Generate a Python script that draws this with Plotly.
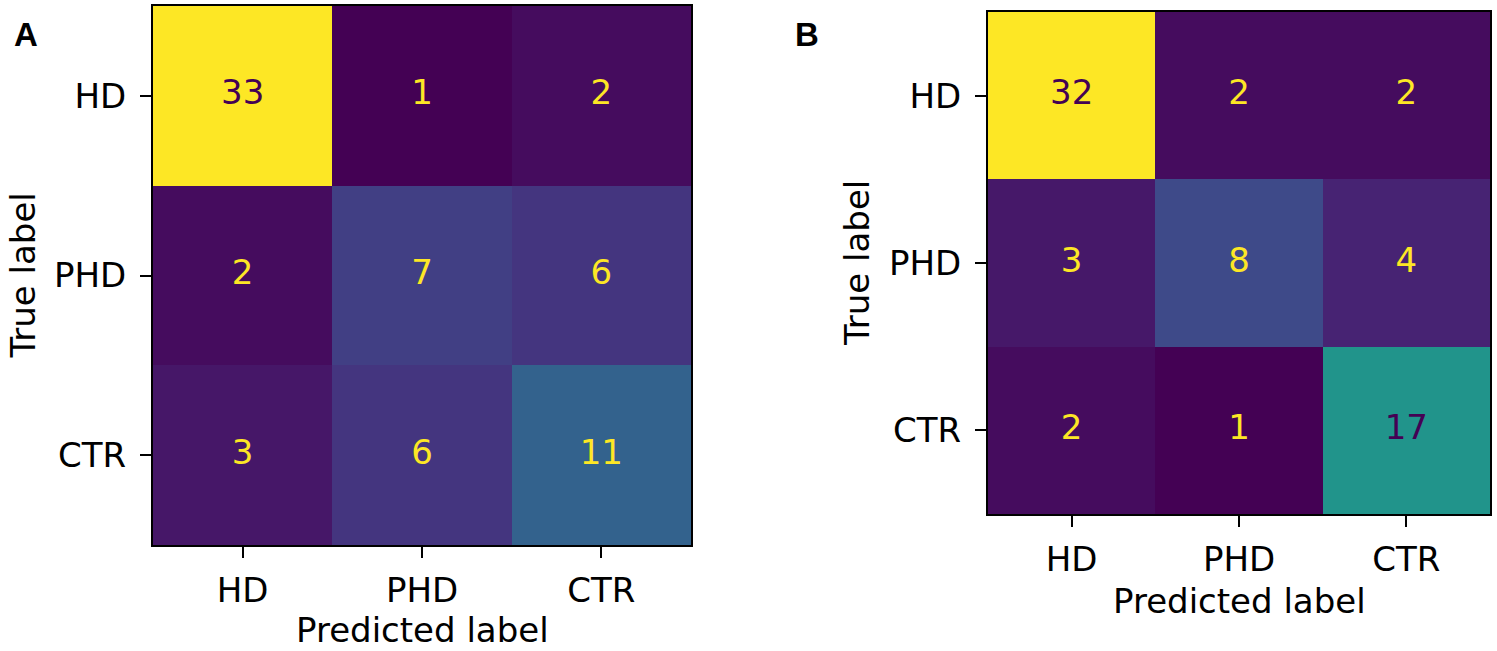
import plotly.graph_objects as go

labels = ["HD", "PHD", "CTR"]
cm_a = [[33, 1, 2], [2, 7, 6], [3, 6, 11]]
cm_b = [[32, 2, 2], [3, 8, 4], [2, 1, 17]]

W, H = 1497, 651
DARK = "#440154"
LIGHT = "#fde725"
FONT = "DejaVu Sans"
FS = 34

fig = go.Figure()

# (matrix, xaxis, yaxis, x-range px, y-range px, tag, tag pos, ytitle x, xtitle y)
panels = [
    (cm_a, "x", "y", (153, 691), (6, 545), "A", (26, 34), 22, 630),
    (cm_b, "x2", "y2", (988, 1490), (12, 514), "B", (807, 34), 857, 601),
]

for i, (cm, xa, ya, (x0, x1), (y0, y1), tag, (tx, ty), ytx, xty) in enumerate(panels):
    flat = [v for r in cm for v in r]
    lo, hi = min(flat), max(flat)
    thr = (lo + hi) / 2
    fig.add_trace(go.Heatmap(
        z=cm, x=labels, y=labels, colorscale="Viridis", zmin=lo, zmax=hi,
        showscale=False, xaxis=xa, yaxis=ya, hoverinfo="skip", xgap=0, ygap=0,
    ))
    xs, ys, ts, cs = [], [], [], []
    for r, row in enumerate(cm):
        for c, v in enumerate(row):
            xs.append(labels[c]); ys.append(labels[r]); ts.append(str(v))
            cs.append(DARK if v > thr else LIGHT)
    fig.add_trace(go.Scatter(
        x=xs, y=ys, text=ts, mode="text", xaxis=xa, yaxis=ya,
        textfont=dict(family=FONT, size=FS, color=cs), hoverinfo="skip", showlegend=False,
    ))
    sfx = "" if i == 0 else "2"
    common = dict(
        showline=True, linecolor="black", linewidth=2, mirror=True,
        ticks="outside", ticklen=11, tickwidth=1.5, tickcolor="black", showgrid=False, zeroline=False,
        tickfont=dict(family=FONT, size=FS, color="black"),
        categoryorder="array", categoryarray=labels,
    )
    fig.layout["xaxis" + sfx] = dict(domain=[x0 / W, x1 / W], anchor="y" + sfx,
                                     ticklabelstandoff=3, **common)
    fig.layout["yaxis" + sfx] = dict(domain=[1 - y1 / H, 1 - y0 / H], anchor="x" + sfx,
                                     autorange="reversed", ticklabelstandoff=7, **common)
    fig.add_annotation(text="<b>" + tag + "</b>", x=tx / W, y=1 - ty / H, xref="paper", yref="paper",
                       xanchor="center", yanchor="middle", showarrow=False,
                       font=dict(family="Liberation Sans", size=33, color="black"))
    fig.add_annotation(text="True label", x=ytx / W, y=1 - ((y0 + y1) / 2) / H, xref="paper", yref="paper",
                       xanchor="center", yanchor="middle", showarrow=False, textangle=-90,
                       font=dict(family=FONT, size=FS, color="black"))
    fig.add_annotation(text="Predicted label", x=((x0 + x1) / 2) / W, y=1 - xty / H, xref="paper", yref="paper",
                       xanchor="center", yanchor="middle", showarrow=False,
                       font=dict(family=FONT, size=FS, color="black"))

fig.update_layout(width=W, height=H, margin=dict(l=0, r=0, t=0, b=0),
                  paper_bgcolor="white", plot_bgcolor="white", showlegend=False)
fig.write_html("out.html", post_script="document.body.style.margin='0';",
               config={"displayModeBar": False})
